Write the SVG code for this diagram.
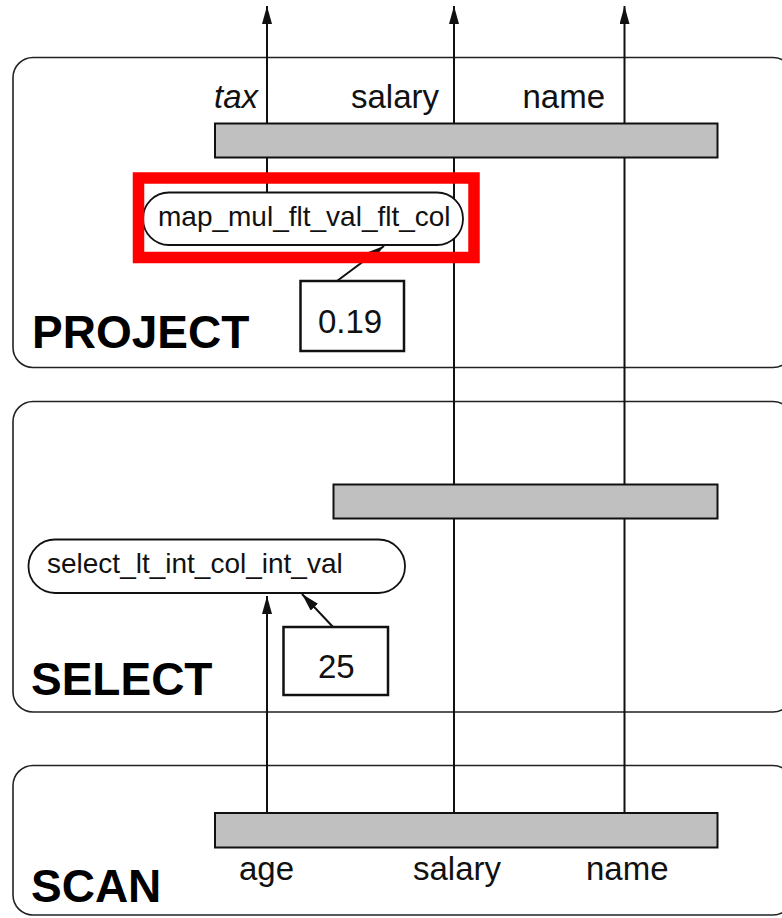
<svg xmlns="http://www.w3.org/2000/svg" width="782" height="918" viewBox="0 0 782 918">
  <style>
    .frame { fill: none; stroke: #222; stroke-width: 1.6; }
    .bar { fill: #c0c0c0; stroke: #111; stroke-width: 2; }
    .wire { fill: none; stroke: #111; stroke-width: 2; }
    .oval { fill: #fff; stroke: #111; stroke-width: 1.8; }
    .box { fill: #fff; stroke: #111; stroke-width: 2.5; }
    .lbl { font-family: "Liberation Sans", Arial, sans-serif; font-size: 33px; fill: #111; }
    .fn { font-family: "Liberation Sans", Arial, sans-serif; font-size: 28px; fill: #111; }
    .op { font-family: "Liberation Sans", Arial, sans-serif; font-size: 46px; font-weight: bold; fill: #000; }
  </style>
  <defs>
    <marker id="arr" markerUnits="userSpaceOnUse" markerWidth="18" markerHeight="10" refX="18" refY="5" orient="auto">
      <path d="M0,0 L18,5 L0,10 z" fill="#111"/>
    </marker>
  </defs>
  <rect width="782" height="918" fill="#fff"/>

  <g id="project">
    <rect class="frame" x="13" y="57.5" width="780" height="310" rx="20"/>
  </g>
  <g id="select">
    <rect class="frame" x="13" y="401.5" width="780" height="310.5" rx="20"/>
  </g>
  <g id="scan">
    <rect class="frame" x="13" y="765.5" width="780" height="149.5" rx="20"/>
  </g>

  <g id="connectors">
    <line class="wire" x1="267" y1="192" x2="267" y2="6" marker-end="url(#arr)"/>
    <line class="wire" x1="454" y1="813" x2="454" y2="6" marker-end="url(#arr)"/>
    <line class="wire" x1="624.5" y1="813" x2="624.5" y2="6" marker-end="url(#arr)"/>
    <line class="wire" x1="267" y1="813" x2="267" y2="596" marker-end="url(#arr)"/>
    <line class="wire" x1="333" y1="627" x2="302" y2="594" marker-end="url(#arr)"/>
    <line class="wire" x1="337" y1="281" x2="384" y2="246" marker-end="url(#arr)"/>
  </g>

  <g id="project-bar">
    <rect class="bar" x="215" y="123.5" width="502.5" height="34"/>
  </g>
  <g id="select-bar">
    <rect class="bar" x="333.5" y="484.5" width="384" height="34"/>
  </g>
  <g id="scan-bar">
    <rect class="bar" x="215" y="813" width="502.5" height="34.5"/>
  </g>

  <g id="map-fn">
    <rect class="oval" x="143" y="192.5" width="320" height="52.5" rx="26"/>
    <text class="fn" x="158" y="226">map_mul_flt_val_flt_col</text>
  </g>
  <g id="const-019">
    <rect class="box" x="300.5" y="281" width="103.5" height="70"/>
    <text class="lbl" x="318" y="333">0.19</text>
  </g>
  <g id="select-fn">
    <rect class="oval" x="28.5" y="539.5" width="376.5" height="53.5" rx="26.5"/>
    <text class="fn" x="47" y="573">select_lt_int_col_int_val</text>
  </g>
  <g id="const-25">
    <rect class="box" x="283.5" y="627" width="104.5" height="68"/>
    <text class="lbl" x="318" y="678">25</text>
  </g>

  <g id="labels">
    <text class="lbl" x="258" y="108" text-anchor="end" font-style="italic">tax</text>
    <text class="lbl" x="439" y="108" text-anchor="end">salary</text>
    <text class="lbl" x="605" y="108" text-anchor="end">name</text>
    <text class="lbl" x="239" y="880">age</text>
    <text class="lbl" x="413" y="880">salary</text>
    <text class="lbl" x="586" y="880">name</text>
    <text class="op" x="32" y="348">PROJECT</text>
    <text class="op" x="31" y="695">SELECT</text>
    <text class="op" x="31" y="902">SCAN</text>
  </g>

  <g id="highlight">
    <rect x="138.5" y="178" width="335.5" height="79.5" fill="none" stroke="#ff0000" stroke-width="11.5"/>
  </g>
</svg>
